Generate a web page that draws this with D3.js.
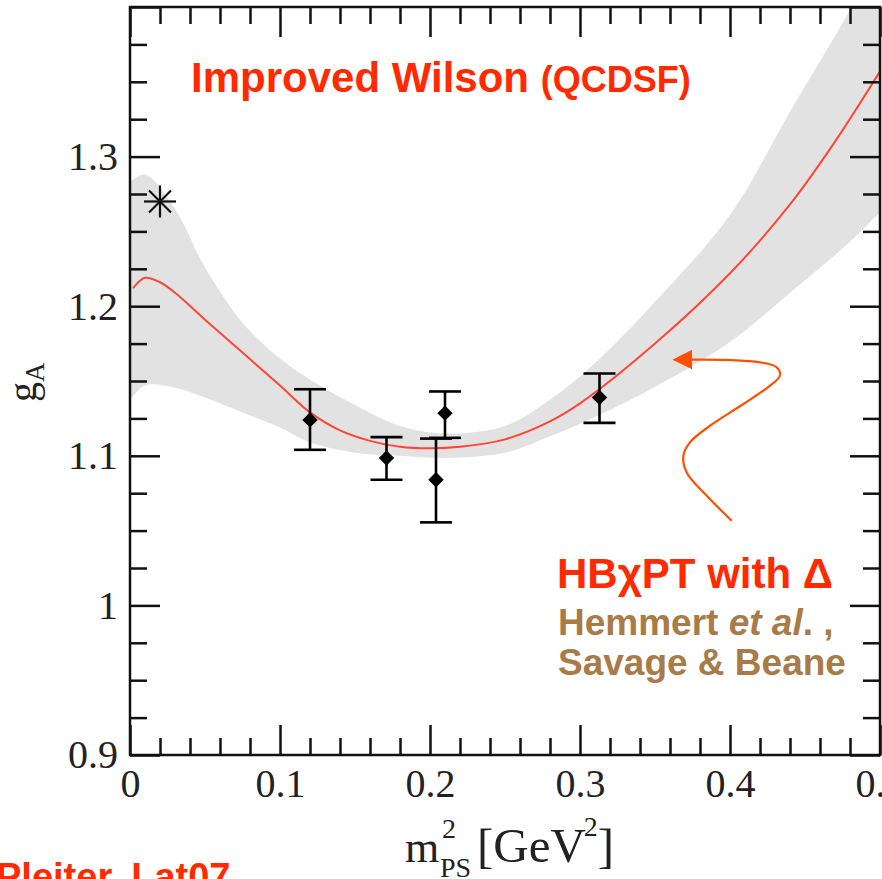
<!DOCTYPE html>
<meta charset="utf-8">
<style>
body { margin: 0; background: #fff; }
.tick text { font-family: "Liberation Serif", "DejaVu Serif", serif; fill: #222; }
.axis .domain { display: none; }
.axis line { stroke: #111; stroke-width: 2.5; }
.band { fill: #e2e2e2; }
.fit { fill: none; stroke: #ff4536; stroke-width: 2; }
.bars line { stroke: #000; stroke-width: 2.6; }
.lbl { font-family: "Liberation Sans", Arial, sans-serif; font-weight: bold; }
.serif { font-family: "Liberation Serif", "DejaVu Serif", serif; fill: #222; }
</style>
<svg width="882" height="879"></svg>
<script src="https://cdn.jsdelivr.net/npm/d3@7"></script>
<script>

// lattice points (m_PS^2, g_A, lower error, upper error)
var ptX  = [0.12, 0.171, 0.204, 0.21, 0.313];
var ptY  = [1.124, 1.0985, 1.084, 1.1285, 1.139];
var ptLo = [1.104, 1.084, 1.0555, 1.112, 1.122];
var ptHi = [1.1445, 1.1125, 1.1115, 1.143, 1.155];

// experimental value
var expX = 0.02, expY = 1.27;

// fit curve
var curveX = [0.002, 0.01, 0.02, 0.03, 0.05, 0.075, 0.1, 0.12, 0.14, 0.16, 0.18, 0.2, 0.22, 0.25, 0.28, 0.3, 0.35, 0.4, 0.44, 0.47, 0.5];
var curveY = [1.212, 1.219, 1.216, 1.209, 1.191, 1.169, 1.147, 1.129, 1.117, 1.110, 1.106, 1.105, 1.106, 1.111, 1.123, 1.135, 1.175, 1.222, 1.268, 1.31, 1.357];

// error band
var bandX  = [0, 0.01, 0.03, 0.05, 0.075, 0.1, 0.12, 0.15, 0.18, 0.21, 0.25, 0.28, 0.31, 0.35, 0.4, 0.44, 0.48, 0.5];
var bandHi = [1.283, 1.288, 1.265, 1.226, 1.189, 1.165, 1.151, 1.134, 1.120, 1.115, 1.120, 1.1375, 1.162, 1.203, 1.261, 1.330, 1.398, 1.436];
var bandLo = [1.137, 1.147, 1.1455, 1.139, 1.129, 1.119, 1.109, 1.102, 1.100, 1.0985, 1.102, 1.113, 1.126, 1.146, 1.176, 1.209, 1.243, 1.263];

// ticks
var xMajor = [0, 0.1, 0.2, 0.3, 0.4, 0.5];
var xLabels = ["0", "0.1", "0.2", "0.3", "0.4", "0.5"];
var yMajor = [0.9, 1, 1.1, 1.2, 1.3, 1.4];
var yLabels = ["0.9", "1", "1.1", "1.2", "1.3", ""];

// annotation arrow, in data units
var arrowPts = [[0.4011, 1.0566], [0.3845, 1.0733], [0.3711, 1.0889], [0.3689, 1.1], [0.3733, 1.109],
  [0.3867, 1.1201], [0.4089, 1.1346], [0.4267, 1.1469], [0.4333, 1.1536], [0.4311, 1.1592],
  [0.42, 1.1625], [0.3978, 1.1641], [0.3722, 1.1643]];

var svg = d3.select("svg"),
    mL = 130, mR = 880, mT = 7, mB = 755;

var x = d3.scaleLinear().domain([0, 0.5]).range([mL, mR]);
var y = d3.scaleLinear().domain([0.9, 1.4]).range([mB, mT]);

svg.append("clipPath").attr("id", "clip")
  .append("rect").attr("x", mL).attr("y", mT).attr("width", mR - mL).attr("height", mB - mT);

var plot = svg.append("g").attr("clip-path", "url(#clip)");

var area = d3.area()
    .x(function(d, i) { return x(bandX[i]); })
    .y0(function(d, i) { return y(bandLo[i]); })
    .y1(function(d, i) { return y(bandHi[i]); })
    .curve(d3.curveCatmullRom);

plot.append("path").datum(bandX).attr("class", "band").attr("d", area);

var line = d3.line()
    .x(function(d, i) { return x(curveX[i]); })
    .y(function(d, i) { return y(curveY[i]); })
    .curve(d3.curveCatmullRom);

plot.append("path").datum(curveX).attr("class", "fit").attr("d", line);

// error bars
var bars = svg.append("g").attr("class", "bars");
ptX.forEach(function(v, i) {
  var cx = x(v);
  bars.append("line").attr("x1", cx).attr("x2", cx).attr("y1", y(ptLo[i])).attr("y2", y(ptHi[i]));
  bars.append("line").attr("x1", cx - 16).attr("x2", cx + 16).attr("y1", y(ptLo[i])).attr("y2", y(ptLo[i]));
  bars.append("line").attr("x1", cx - 16).attr("x2", cx + 16).attr("y1", y(ptHi[i])).attr("y2", y(ptHi[i]));
});

svg.append("g").selectAll("path")
  .data(ptX)
  .enter().append("path")
    .attr("d", d3.symbol(d3.symbolDiamond2, 150))
    .attr("transform", function(d, i) { return "translate(" + x(d) + "," + y(ptY[i]) + ")"; })
    .attr("fill", "#000");

// asterisk
var star = svg.append("g").attr("transform", "translate(" + x(expX) + "," + y(expY) + ")")
  .attr("stroke", "#111").attr("stroke-width", 2.2);
star.append("line").attr("x1", -16).attr("x2", 16);
star.append("line").attr("y1", -16).attr("y2", 16);
star.append("line").attr("x1", -11).attr("x2", 11).attr("y1", -11).attr("y2", 11);
star.append("line").attr("x1", -11).attr("x2", 11).attr("y1", 11).attr("y2", -11);

// axes with inward ticks
function fmt(vals, labs) { return function(d) { var k = vals.indexOf(d); return k < 0 ? "" : labs[k]; }; }

var xMinor = d3.range(0.02, 0.5, 0.02).filter(function(d) { return Math.round(d * 50) % 5; });
var yMinor = d3.range(0.925, 1.4, 0.025).filter(function(d) { return Math.round(d * 40) % 4; });

svg.append("g").attr("class", "axis").attr("transform", "translate(0," + mB + ")")
  .call(d3.axisBottom(x).tickValues(xMajor).tickSize(-30).tickPadding(14).tickFormat(fmt(xMajor, xLabels)))
  .selectAll("text").attr("font-size", 40);
svg.append("g").attr("class", "axis").attr("transform", "translate(0," + mB + ")")
  .call(d3.axisBottom(x).tickValues(xMinor).tickSize(-17).tickFormat(""));
svg.append("g").attr("class", "axis").attr("transform", "translate(0," + mT + ")")
  .call(d3.axisTop(x).tickValues(xMajor).tickSize(-30).tickFormat(""));
svg.append("g").attr("class", "axis").attr("transform", "translate(0," + mT + ")")
  .call(d3.axisTop(x).tickValues(xMinor).tickSize(-17).tickFormat(""));

svg.append("g").attr("class", "axis").attr("transform", "translate(" + mL + ",0)")
  .call(d3.axisLeft(y).tickValues(yMajor).tickSize(-30).tickPadding(12).tickFormat(fmt(yMajor, yLabels)))
  .selectAll("text").attr("font-size", 40);
svg.append("g").attr("class", "axis").attr("transform", "translate(" + mL + ",0)")
  .call(d3.axisLeft(y).tickValues(yMinor).tickSize(-17).tickFormat(""));
svg.append("g").attr("class", "axis").attr("transform", "translate(" + mR + ",0)")
  .call(d3.axisRight(y).tickValues(yMajor).tickSize(-30).tickFormat(""));
svg.append("g").attr("class", "axis").attr("transform", "translate(" + mR + ",0)")
  .call(d3.axisRight(y).tickValues(yMinor).tickSize(-17).tickFormat(""));

svg.append("rect").attr("x", mL).attr("y", mT).attr("width", mR - mL).attr("height", mB - mT)
  .attr("fill", "none").attr("stroke", "#111").attr("stroke-width", 2.5);

// axis titles
var yt = svg.append("text").attr("class", "serif").attr("transform", "translate(36,402) rotate(-90)").attr("font-size", 40);
yt.append("tspan").text("g");
yt.append("tspan").attr("font-size", 27).attr("dy", 8).text("A");

svg.append("text").attr("class", "serif").attr("x", 405).attr("y", 862).attr("font-size", 44).text("m");
svg.append("text").attr("class", "serif").attr("x", 442).attr("y", 838).attr("font-size", 28).text("2");
svg.append("text").attr("class", "serif").attr("x", 440).attr("y", 877).attr("font-size", 28).text("PS");
var gev = svg.append("text").attr("class", "serif").attr("x", 477).attr("y", 862).attr("font-size", 49).text("[GeV");
var gx = 477 + gev.node().getComputedTextLength();
svg.append("text").attr("class", "serif").attr("x", gx - 2).attr("y", 836).attr("font-size", 28).text("2");
svg.append("text").attr("class", "serif").attr("x", gx + 12).attr("y", 862).attr("font-size", 49).text("]");

// annotations
var t1 = svg.append("text").attr("class", "lbl").attr("x", 191).attr("y", 92).attr("fill", "#ff2a00").attr("font-size", 42);
t1.append("tspan").text("Improved Wilson ");
t1.append("tspan").attr("font-size", 36).text("(QCDSF)");

svg.append("text").attr("class", "lbl").attr("x", 557).attr("y", 588).attr("fill", "#ff2a00").attr("font-size", 42).text("HBχPT with Δ");
var t2 = svg.append("text").attr("class", "lbl").attr("x", 558).attr("y", 635).attr("fill", "#a87b48").attr("font-size", 37);
t2.append("tspan").text("Hemmert ");
t2.append("tspan").attr("font-style", "italic").text("et al");
t2.append("tspan").text(". ,");
svg.append("text").attr("class", "lbl").attr("x", 558).attr("y", 675).attr("fill", "#a87b48").attr("font-size", 37).text("Savage & Beane");

svg.append("text").attr("class", "lbl").attr("x", -4).attr("y", 890).attr("fill", "#ff2a00").attr("font-size", 38).text("Pleiter, Lat07");

svg.append("defs").append("marker").attr("id", "head")
  .attr("viewBox", "0 0 10 10").attr("refX", 2).attr("refY", 5)
  .attr("markerWidth", 9).attr("markerHeight", 9).attr("markerUnits", "strokeWidth").attr("orient", "auto")
  .append("path").attr("d", "M0,0L10,5L0,10Z").attr("fill", "#ff5000");

svg.append("path").datum(arrowPts)
  .attr("d", d3.line().x(function(d) { return x(d[0]); }).y(function(d) { return y(d[1]); }).curve(d3.curveCatmullRom))
  .attr("fill", "none").attr("stroke", "#ff5000").attr("stroke-width", 2.2)
  .attr("marker-end", "url(#head)");

</script>
